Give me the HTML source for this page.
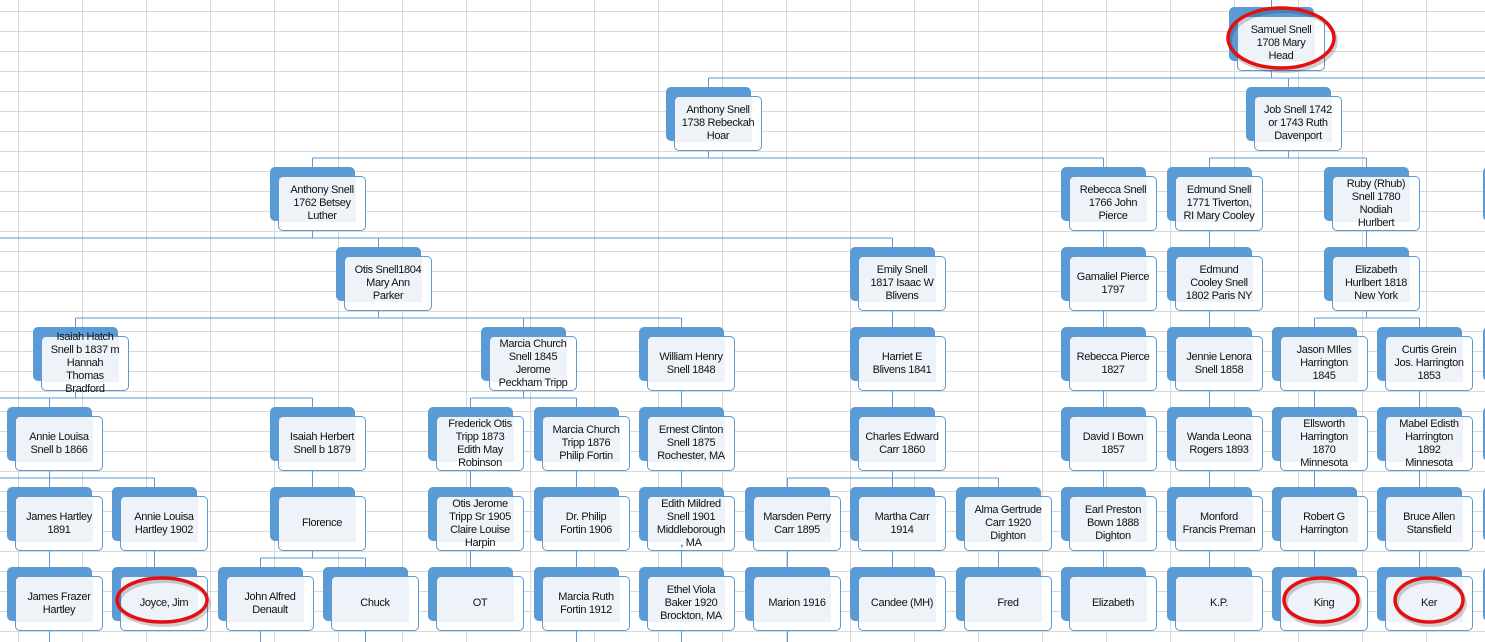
<!DOCTYPE html>
<html><head><meta charset="utf-8"><style>
html,body{margin:0;padding:0}
body{width:1485px;height:642px;position:relative;overflow:hidden;background:#fff;
background-image:linear-gradient(to right,#d9d9d9 0,#d9d9d9 1px,transparent 1px),linear-gradient(to bottom,#d9d9d9 0,#d9d9d9 1px,transparent 1px);
background-size:64px 20px,64px 20px;background-position:18px 0,0 11px;
font-family:"Liberation Sans",Arial,sans-serif}
svg{position:absolute;left:0;top:0}
.n{position:absolute;width:85px;height:54px;background:#5b9bd5;border-radius:5px}
.t{position:absolute;left:8px;top:9px;width:86px;height:53px;border:1px solid #5b9bd5;border-radius:5px;
background:#fff linear-gradient(#eef3fa,#eef3fa) no-repeat 0 0/77px 45px;display:flex;align-items:center;justify-content:center;
text-align:center;font-size:11px;line-height:13px;color:#111;white-space:nowrap;letter-spacing:-0.35px}
</style></head><body>
<svg width="1485" height="642" style="z-index:0">
<g stroke="#5b9bd5" stroke-width="1" fill="none">
<path d="M1271.5 0V78M708.5 78H1485M708.5 78V87M1288.5 78V87"/>
<path d="M708.5 150V158M312.5 158H1103.5M312.5 158V167M1103.5 158V567"/>
<path d="M1288.5 150V158M1209.5 158H1366.5M1209.5 158V567M1366.5 158V318M1314.5 318H1419.5M1314.5 318V567M1419.5 318V567"/>
<path d="M312.5 230V238M0 238H892.5M378.5 238V318M892.5 238V478M787.5 478H998.5M787.5 478V642M892.5 478V567M998.5 478V567"/>
<path d="M75.5 318H681.5M75.5 318V398M523.5 318V398M681.5 318V642"/>
<path d="M0 398H312.5M49.5 398V478M312.5 398V558M0 478H154.5M49.5 478V642M154.5 478V567M260.5 558H365.5M260.5 558V642M365.5 558V642"/>
<path d="M470.5 398H576.5M470.5 398V567M576.5 398V642"/>
</g></svg>

<div class="n" style="left:1229px;top:7px"><div class="t">Samuel Snell<br>1708 Mary<br>Head</div></div>
<div class="n" style="left:666px;top:87px"><div class="t">Anthony Snell<br>1738 Rebeckah<br>Hoar</div></div>
<div class="n" style="left:1246px;top:87px"><div class="t">Job Snell 1742<br>or 1743 Ruth<br>Davenport</div></div>

<div class="n" style="left:270px;top:167px"><div class="t">Anthony Snell<br>1762 Betsey<br>Luther</div></div>
<div class="n" style="left:1061px;top:167px"><div class="t">Rebecca Snell<br>1766 John<br>Pierce</div></div>
<div class="n" style="left:1167px;top:167px"><div class="t">Edmund Snell<br>1771 Tiverton,<br>RI Mary Cooley</div></div>
<div class="n" style="left:1324px;top:167px"><div class="t">Ruby (Rhub)<br>Snell 1780<br>Nodiah<br>Hurlbert</div></div>
<div class="n" style="left:1483px;top:167px"><div class="t"></div></div>

<div class="n" style="left:336px;top:247px"><div class="t">Otis Snell1804<br>Mary Ann<br>Parker</div></div>
<div class="n" style="left:850px;top:247px"><div class="t">Emily Snell<br>1817 Isaac W<br>Blivens</div></div>
<div class="n" style="left:1061px;top:247px"><div class="t">Gamaliel Pierce<br>1797</div></div>
<div class="n" style="left:1167px;top:247px"><div class="t">Edmund<br>Cooley Snell<br>1802 Paris NY</div></div>
<div class="n" style="left:1324px;top:247px"><div class="t">Elizabeth<br>Hurlbert 1818<br>New York</div></div>

<div class="n" style="left:33px;top:327px"><div class="t">Isaiah Hatch<br>Snell b 1837 m<br>Hannah<br>Thomas<br>Bradford</div></div>
<div class="n" style="left:481px;top:327px"><div class="t">Marcia Church<br>Snell 1845<br>Jerome<br>Peckham Tripp</div></div>
<div class="n" style="left:639px;top:327px"><div class="t">William Henry<br>Snell 1848</div></div>
<div class="n" style="left:850px;top:327px"><div class="t">Harriet E<br>Blivens 1841</div></div>
<div class="n" style="left:1061px;top:327px"><div class="t">Rebecca Pierce<br>1827</div></div>
<div class="n" style="left:1167px;top:327px"><div class="t">Jennie Lenora<br>Snell 1858</div></div>
<div class="n" style="left:1272px;top:327px"><div class="t">Jason MIles<br>Harrington<br>1845</div></div>
<div class="n" style="left:1377px;top:327px"><div class="t">Curtis Grein<br>Jos. Harrington<br>1853</div></div>
<div class="n" style="left:1483px;top:327px"><div class="t"></div></div>

<div class="n" style="left:7px;top:407px"><div class="t">Annie Louisa<br>Snell b 1866</div></div>
<div class="n" style="left:270px;top:407px"><div class="t">Isaiah Herbert<br>Snell b 1879</div></div>
<div class="n" style="left:428px;top:407px"><div class="t">Frederick Otis<br>Tripp 1873<br>Edith May<br>Robinson</div></div>
<div class="n" style="left:534px;top:407px"><div class="t">Marcia Church<br>Tripp 1876<br>Philip Fortin</div></div>
<div class="n" style="left:639px;top:407px"><div class="t">Ernest Clinton<br>Snell 1875<br>Rochester, MA</div></div>
<div class="n" style="left:850px;top:407px"><div class="t">Charles Edward<br>Carr 1860</div></div>
<div class="n" style="left:1061px;top:407px"><div class="t">David I Bown<br>1857</div></div>
<div class="n" style="left:1167px;top:407px"><div class="t">Wanda Leona<br>Rogers 1893</div></div>
<div class="n" style="left:1272px;top:407px"><div class="t">Ellsworth<br>Harrington<br>1870<br>Minnesota</div></div>
<div class="n" style="left:1377px;top:407px"><div class="t">Mabel Edisth<br>Harrington<br>1892<br>Minnesota</div></div>
<div class="n" style="left:1483px;top:407px"><div class="t"></div></div>

<div class="n" style="left:7px;top:487px"><div class="t">James Hartley<br>1891</div></div>
<div class="n" style="left:112px;top:487px"><div class="t">Annie Louisa<br>Hartley 1902</div></div>
<div class="n" style="left:270px;top:487px"><div class="t">Florence</div></div>
<div class="n" style="left:428px;top:487px"><div class="t">Otis Jerome<br>Tripp Sr 1905<br>Claire Louise<br>Harpin</div></div>
<div class="n" style="left:534px;top:487px"><div class="t">Dr. Philip<br>Fortin 1906</div></div>
<div class="n" style="left:639px;top:487px"><div class="t">Edith Mildred<br>Snell 1901<br>Middleborough<br>, MA</div></div>
<div class="n" style="left:745px;top:487px"><div class="t">Marsden Perry<br>Carr 1895</div></div>
<div class="n" style="left:850px;top:487px"><div class="t">Martha Carr<br>1914</div></div>
<div class="n" style="left:956px;top:487px"><div class="t">Alma Gertrude<br>Carr 1920<br>Dighton</div></div>
<div class="n" style="left:1061px;top:487px"><div class="t">Earl Preston<br>Bown 1888<br>Dighton</div></div>
<div class="n" style="left:1167px;top:487px"><div class="t">Monford<br>Francis Preman</div></div>
<div class="n" style="left:1272px;top:487px"><div class="t">Robert G<br>Harrington</div></div>
<div class="n" style="left:1377px;top:487px"><div class="t">Bruce Allen<br>Stansfield</div></div>
<div class="n" style="left:1483px;top:487px"><div class="t"></div></div>

<div class="n" style="left:7px;top:567px"><div class="t">James Frazer<br>Hartley</div></div>
<div class="n" style="left:112px;top:567px"><div class="t">Joyce, Jim</div></div>
<div class="n" style="left:218px;top:567px"><div class="t">John Alfred<br>Denault</div></div>
<div class="n" style="left:323px;top:567px"><div class="t">Chuck</div></div>
<div class="n" style="left:428px;top:567px"><div class="t">OT</div></div>
<div class="n" style="left:534px;top:567px"><div class="t">Marcia Ruth<br>Fortin 1912</div></div>
<div class="n" style="left:639px;top:567px"><div class="t">Ethel Viola<br>Baker 1920<br>Brockton, MA</div></div>
<div class="n" style="left:745px;top:567px"><div class="t">Marion 1916</div></div>
<div class="n" style="left:850px;top:567px"><div class="t">Candee (MH)</div></div>
<div class="n" style="left:956px;top:567px"><div class="t">Fred</div></div>
<div class="n" style="left:1061px;top:567px"><div class="t">Elizabeth</div></div>
<div class="n" style="left:1167px;top:567px"><div class="t">K.P.</div></div>
<div class="n" style="left:1272px;top:567px"><div class="t">King</div></div>
<div class="n" style="left:1377px;top:567px"><div class="t">Ker</div></div>
<div class="n" style="left:1483px;top:567px"><div class="t"></div></div>

<svg width="1485" height="642" style="z-index:5;pointer-events:none">
<g fill="none" stroke="rgba(0,0,0,0.18)" stroke-width="4">
<ellipse cx="1283" cy="41" rx="53" ry="30"/>
<ellipse cx="164" cy="603" rx="45" ry="22"/>
<ellipse cx="1323" cy="603" rx="37" ry="22"/>
<ellipse cx="1431" cy="603" rx="34" ry="22"/>
</g>
<g fill="none" stroke="#e41010" stroke-width="3.5">
<ellipse cx="1281" cy="38" rx="53" ry="30"/>
<ellipse cx="162" cy="600" rx="45" ry="22"/>
<ellipse cx="1321" cy="600" rx="37" ry="22"/>
<ellipse cx="1429" cy="600" rx="34" ry="22"/>
</g></svg>
</body></html>
